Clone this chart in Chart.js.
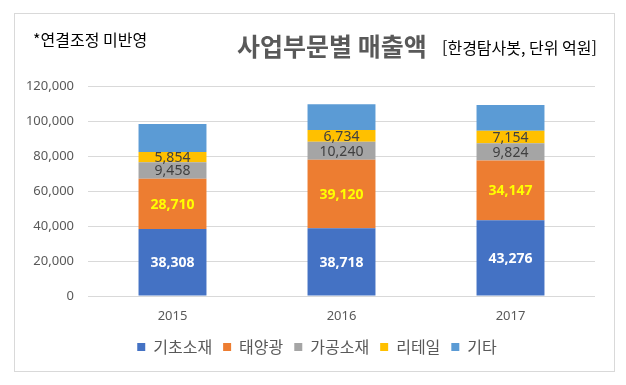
<!DOCTYPE html>
<html lang="ko">
<head>
<meta charset="UTF-8">
<title>사업부문별 매출액</title>
<script src="https://cdn.jsdelivr.net/npm/chart.js"></script>
<style>
    html, body { margin: 0; padding: 0; background: #fff; }
    #chart { display: block; }
</style>
</head>
<body>
<canvas id="chart" width="626" height="385"></canvas>
<script>
    // 데이터 (단위: 억원)
    const years = ['2015', '2016', '2017'];
    const seriesNames = ['기초소재', '태양광', '가공소재', '리테일', '기타'];
    const basicMaterials = [38308, 38718, 43276];
    const solar = [28710, 39120, 34147];
    const processed = [9458, 10240, 9824];
    const retail = [5854, 6734, 7154];
    const others = [15900, 14800, 14700];   // 라벨 없음, 그림에서 추정
    const yTicks = [0, 20000, 40000, 60000, 80000, 100000, 120000];

    const FONT = "'Noto Sans', 'Noto Sans CJK KR', sans-serif";
    const KFONT = "'Noto Sans CJK KR', 'Noto Sans', sans-serif";
    const colors = ['#4472C4', '#ED7D31', '#A5A5A5', '#FFC000', '#5B9BD5'];
    // 막대 안 숫자 스타일 (null = 표시 안 함)
    const labelStyles = [
        { color: '#FFFFFF', weight: 'bold' },
        { color: '#FFFF00', weight: 'bold' },
        { color: '#404040', weight: 'normal' },
        { color: '#404040', weight: 'normal' },
        null
    ];

    const fmt = v => v.toLocaleString('en-US');

    // 테두리 + 제목 텍스트
    const frame = {
        id: 'frame',
        beforeDraw(chart) {
            const ctx = chart.ctx;
            ctx.save();
            ctx.fillStyle = '#fff';
            ctx.fillRect(0, 0, chart.width, chart.height);
            ctx.strokeStyle = '#D9D9D9';
            ctx.lineWidth = 1;
            ctx.strokeRect(14.5, 13.5, 600, 358);
            ctx.restore();
        },
        afterDraw(chart) {
            const ctx = chart.ctx;
            ctx.save();
            ctx.textBaseline = 'middle';
            ctx.textAlign = 'left';
            ctx.fillStyle = '#000';
            ctx.font = '16px ' + KFONT;
            ctx.fillText('*연결조정 미반영', 33, 40);
            ctx.fillStyle = '#595959';
            ctx.font = 'bold 25px ' + KFONT;
            ctx.fillText('사업부문별 매출액', 237, 46);
            ctx.fillStyle = '#000';
            ctx.font = '16px ' + KFONT;
            ctx.fillText('[한경탐사봇, 단위 억원]', 442, 48);
            ctx.restore();
        }
    };

    // 막대 가운데 값 표시
    const barLabels = {
        id: 'barLabels',
        afterDatasetsDraw(chart) {
            const ctx = chart.ctx;
            ctx.save();
            ctx.textAlign = 'center';
            ctx.textBaseline = 'middle';
            chart.data.datasets.forEach((ds, i) => {
                const st = labelStyles[i];
                if (!st) return;
                const meta = chart.getDatasetMeta(i);
                ctx.fillStyle = st.color;
                ctx.font = st.weight + ' 14px ' + FONT;
                meta.data.forEach((bar, j) => {
                    const p = bar.getCenterPoint();
                    ctx.fillText(fmt(ds.data[j]), p.x, p.y + 1);
                });
            });
            ctx.restore();
        }
    };

    const values = [basicMaterials, solar, processed, retail, others];

    new Chart(document.getElementById('chart'), {
        type: 'bar',
        data: {
            labels: years,
            datasets: seriesNames.map((name, i) => ({
                label: name,
                data: values[i],
                backgroundColor: colors[i],
                borderWidth: 0,
                categoryPercentage: 0.402,
                barPercentage: 1
            }))
        },
        options: {
            responsive: false,
            animation: false,
            layout: { padding: { top: 86, left: 8, right: 0, bottom: 20 } },
            plugins: {
                legend: {
                    position: 'bottom',
                    labels: {
                        boxWidth: 8,
                        boxHeight: 8,
                        padding: 11,
                        color: '#595959',
                        font: { family: KFONT, size: 16 }
                    }
                },
                tooltip: { enabled: false }
            },
            scales: {
                x: {
                    stacked: true,
                    grid: { display: false },
                    border: { display: false },
                    ticks: {
                        color: '#595959',
                        padding: 4,
                        font: { family: FONT, size: 13 }
                    },
                    afterFit(scale) { scale.height = 32; }
                },
                y: {
                    stacked: true,
                    min: 0,
                    max: 120000,
                    afterBuildTicks(scale) { scale.ticks = yTicks.map(v => ({ value: v })); },
                    grid: { color: '#D9D9D9', drawTicks: false },
                    border: { display: false },
                    ticks: {
                        color: '#595959',
                        padding: 14,
                        font: { family: FONT, size: 13 },
                        callback: v => fmt(v)
                    },
                    afterFit(scale) { scale.width = 80; }
                },
                // 오른쪽 여백용 빈 축
                yRight: {
                    type: 'linear',
                    position: 'right',
                    grid: { display: false },
                    border: { display: false },
                    ticks: { display: false },
                    afterFit(scale) { scale.width = 31; }
                }
            }
        },
        plugins: [frame, barLabels]
    });
</script>
</body>
</html>
